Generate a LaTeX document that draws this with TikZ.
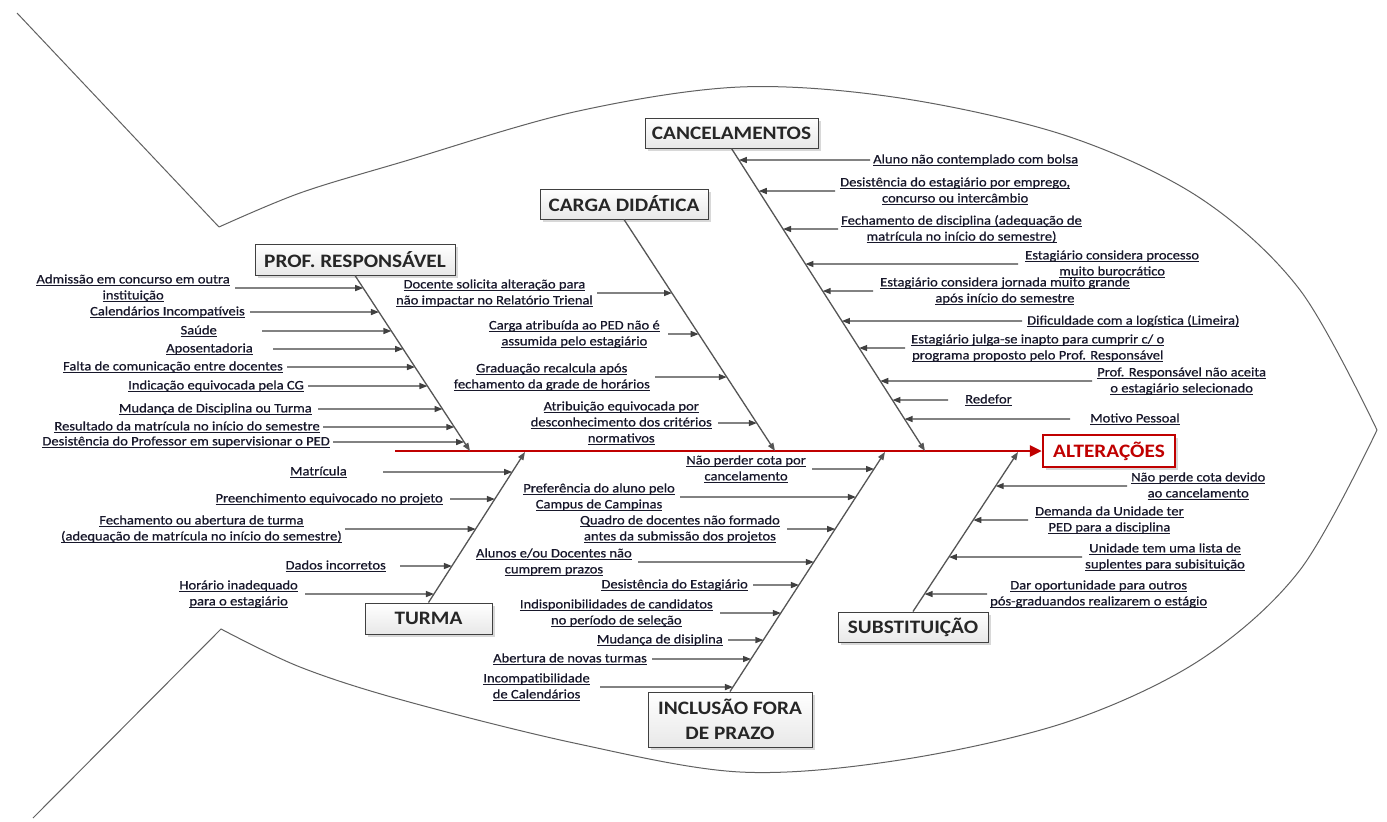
\documentclass[tikz,border=0pt]{standalone}
\usepackage{fontspec}
\usetikzlibrary{arrows.meta,shadows}
\newfontfamily\lblfont{Carlito}[FakeStretch=1.12, FakeBold=0.6]
\newfontfamily\boxfont{Carlito}[FakeStretch=1.12]
\definecolor{ink}{HTML}{17172A}
\definecolor{bonegray}{HTML}{555555}
\definecolor{spinered}{HTML}{C00000}
% underlined text with a slightly heavier rule
\newcommand\un[1]{\leavevmode\setbox0=\hbox{#1}\rlap{\rule[-2.2pt]{\wd0}{0.9pt}}\box0}
\tikzset{
  lbl/.style={font=\lblfont\fontsize{13}{16}\selectfont, text=ink, align=center, inner sep=1pt},
  cat/.style={draw=black!75, line width=1pt, top color=white, bottom color=black!9,
    font=\boxfont\bfseries\fontsize{19}{25}\selectfont, text=black!85, align=center,
    drop shadow={shadow xshift=2.5pt, shadow yshift=-2.5pt, fill=black!30}, inner sep=0pt},
  effect/.style={draw=spinered, line width=2.5pt, fill=white,
    font=\boxfont\bfseries\fontsize{19}{25}\selectfont, text=spinered,
    drop shadow={shadow xshift=2.5pt, shadow yshift=-2.5pt, fill=black!30}, inner sep=0pt},
  cause/.style={draw=black!75, line width=1.3pt, -{Triangle[length=8pt,width=6pt]}},
  bone/.style={draw=bonegray, line width=1.3pt, -{Triangle[length=8pt,width=6pt]}},
  spine/.style={draw=spinered, line width=2.8pt, -{Triangle[length=12pt,width=11pt]}},
  outline/.style={draw=black!62, line width=1pt, line join=miter},
}
% cause label left of a bone, arrow pointing right
\newcommand\causeL[6]{%
  \node[lbl, anchor=east] (#1) at (#2,#3) {#6};
  \draw[cause, shorten <=#4pt] (#1.east) -- (intersection of #1.east--#1.west and #5);}
% cause label right of a bone, arrow pointing left
\newcommand\causeR[6]{%
  \node[lbl, anchor=west] (#1) at (#2,#3) {#6};
  \draw[cause, shorten <=#4pt] (#1.west) -- (intersection of #1.west--#1.east and #5);}

\begin{document}
\begin{tikzpicture}[x=1pt,y=-1pt]
\useasboundingbox (0,0) rectangle (1387,822);
\fill[white] (0,0) rectangle (1387,822);

% fish outline
\draw[outline] (17,13) -- (219,227)
  plot[smooth, tension=0.55] coordinates {(219,227) (300,193) (402,162) (574,112) (740,87) (900,98) (1067,136) (1200,198) (1300,290) (1377,430)};
\draw[outline] (1377,430)
  plot[smooth, tension=0.55] coordinates {(1377,430) (1300,570) (1200,660) (1067,722) (900,760) (740,772) (574,743) (402,700) (300,667) (221,629)}
  -- (33,818);

% head and category boxes
\node[effect, minimum width=132pt, minimum height=32pt] (ALT) at (1109,451) {ALTERAÇÕES};
\node[cat, minimum width=200pt, minimum height=31pt] (PR) at (355,259.5) {PROF. RESPONSÁVEL};
\node[cat, minimum width=168pt, minimum height=30pt] (CD) at (624,204) {CARGA DIDÁTICA};
\node[cat, minimum width=173pt, minimum height=30pt] (CA) at (731.5,133) {CANCELAMENTOS};
\node[cat, minimum width=127pt, minimum height=31pt] (TU) at (428.5,618.5) {TURMA};
\node[cat, minimum width=164pt, minimum height=55pt] (IN) at (730,719.5) {INCLUSÃO FORA\\DE PRAZO};
\node[cat, minimum width=150pt, minimum height=30pt] (SU) at (913,627) {SUBSTITUIÇÃO};

% spine and bones
\coordinate (spL) at (395,451);
\coordinate (prS) at (470,451);
\coordinate (cdS) at (775,451);
\coordinate (caS) at (925,451);
\coordinate (tuS) at (525,452);
\coordinate (inS) at (885,452);
\coordinate (suS) at (1018,452);
\draw[spine] (spL) -- (ALT.west);
\draw[bone] (PR.south) -- (prS);
\draw[bone] (CD.south) -- (cdS);
\draw[bone] (CA.south) -- (caS);
\draw[bone] (TU.north) -- (tuS);
\draw[bone] (IN.north) -- (inS);
\draw[bone] (SU.north) -- (suS);

% PROF. RESPONSÁVEL
\causeL{p1}{231}{288}{4}{PR.south--prS}{\un{Admissão em concurso em outra}\\\un{instituição}}
\causeL{p2}{246}{312}{4}{PR.south--prS}{\un{Calendários Incompatíveis}}
\causeL{p3}{218}{331}{44}{PR.south--prS}{\un{Saúde}}
\causeL{p4}{254}{349}{19}{PR.south--prS}{\un{Aposentadoria}}
\causeL{p5}{284}{367}{3}{PR.south--prS}{\un{Falta de comunicação entre docentes}}
\causeL{p6}{305}{386}{3}{PR.south--prS}{\un{Indicação equivocada pela CG}}
\causeL{p7}{313}{409}{5}{PR.south--prS}{\un{Mudança de Disciplina ou Turma}}
\causeL{p8}{321}{427}{2}{PR.south--prS}{\un{Resultado da matrícula no início do semestre}}
\causeL{p9}{331}{442}{2}{PR.south--prS}{\un{Desistência do Professor em supervisionar o PED}}

% CARGA DIDÁTICA
\causeL{c1}{594}{293}{3}{CD.south--cdS}{\un{Docente solicita alteração para}\\\un{não impactar no Relatório Trienal}}
\causeL{c2}{661}{334}{7}{CD.south--cdS}{\un{Carga atribuída ao PED não é}\\\un{assumida pelo estagiário}}
\causeL{c3}{651}{377}{4}{CD.south--cdS}{\un{Graduação recalcula após}\\\un{fechamento da grade de horários}}
\causeL{c4}{713}{423}{5}{CD.south--cdS}{\un{Atribuição equivocada por}\\\un{desconhecimento dos critérios}\\\un{normativos}}

% CANCELAMENTOS
\causeR{k1}{872}{160}{2}{CA.south--caS}{\un{Aluno não contemplado com bolsa}}
\causeR{k2}{839}{191}{4}{CA.south--caS}{\un{Desistência do estagiário por emprego,}\\\un{concurso ou intercâmbio}}
\causeR{k3}{840}{229}{2}{CA.south--caS}{\un{Fechamento de disciplina (adequação de}\\\un{matrícula no início do semestre)}}
\causeR{k4}{1024}{264}{6}{CA.south--caS}{\un{Estagiário considera processo}\\\un{muito burocrático}}
\causeR{k5}{879}{291}{6}{CA.south--caS}{\un{Estagiário considera jornada muito grande}\\\un{após início do semestre}}
\causeR{k6}{1026}{321}{4}{CA.south--caS}{\un{Dificuldade com a logística (Limeira)}}
\causeR{k7}{910}{348}{5}{CA.south--caS}{\un{Estagiário julga-se inapto para cumprir c/ o}\\\un{programa proposto pelo Prof. Responsável}}
\causeR{k8}{1096}{381}{4}{CA.south--caS}{\un{Prof. Responsável não aceita}\\\un{o estagiário selecionado}}
\causeR{k9}{964}{400}{16}{CA.south--caS}{\un{Redefor}}
\causeR{k10}{1089}{419}{19}{CA.south--caS}{\un{Motivo Pessoal}}

% TURMA
\causeL{t1}{348}{472}{35}{TU.north--tuS}{\un{Matrícula}}
\causeL{t2}{444}{499}{6}{TU.north--tuS}{\un{Preenchimento equivocado no projeto}}
\causeL{t3}{343}{529}{2}{TU.north--tuS}{\un{Fechamento ou abertura de turma}\\\un{(adequação de matrícula no início do semestre)}}
\causeL{t4}{387}{566}{13}{TU.north--tuS}{\un{Dados incorretos}}
\causeL{t5}{299}{594}{6}{TU.north--tuS}{\un{Horário inadequado}\\\un{para o estagiário}}

% INCLUSÃO FORA DE PRAZO
\causeL{i1}{807}{469}{5}{IN.north--inS}{\un{Não perder cota por}\\\un{cancelamento}}
\causeL{i2}{676}{497}{4}{IN.north--inS}{\un{Preferência do aluno pelo}\\\un{Campus de Campinas}}
\causeL{i3}{781}{529}{6}{IN.north--inS}{\un{Quadro de docentes não formado}\\\un{antes da submissão dos projetos}}
\causeL{i4}{633}{562}{5}{IN.north--inS}{\un{Alunos e/ou Docentes não}\\\un{cumprem prazos}}
\causeL{i5}{749}{585}{4}{IN.north--inS}{\un{Desistência do Estagiário}}
\causeL{i6}{714}{613}{6}{IN.north--inS}{\un{Indisponibilidades de candidatos}\\\un{no período de seleção}}
\causeL{i7}{724}{640}{4}{IN.north--inS}{\un{Mudança de disiplina}}
\causeL{i8}{648}{659}{4}{IN.north--inS}{\un{Abertura de novas turmas}}
\causeL{i9}{591}{687}{9}{IN.north--inS}{\un{Incompatibilidade}\\\un{de Calendários}}

% SUBSTITUIÇÃO
\causeR{s1}{1130}{486}{3}{SU.north--suS}{\un{Não perde cota devido}\\\un{ao cancelamento}}
\causeR{s2}{1034}{520}{6}{SU.north--suS}{\un{Demanda da Unidade ter}\\\un{PED para a disciplina}}
\causeR{s3}{1084}{557}{2}{SU.north--suS}{\un{Unidade tem uma lista de}\\\un{suplentes para subisituição}}
\causeR{s4}{989}{594}{2}{SU.north--suS}{\un{Dar oportunidade para outros}\\\un{pós-graduandos realizarem o estágio}}
\end{tikzpicture}
\end{document}
